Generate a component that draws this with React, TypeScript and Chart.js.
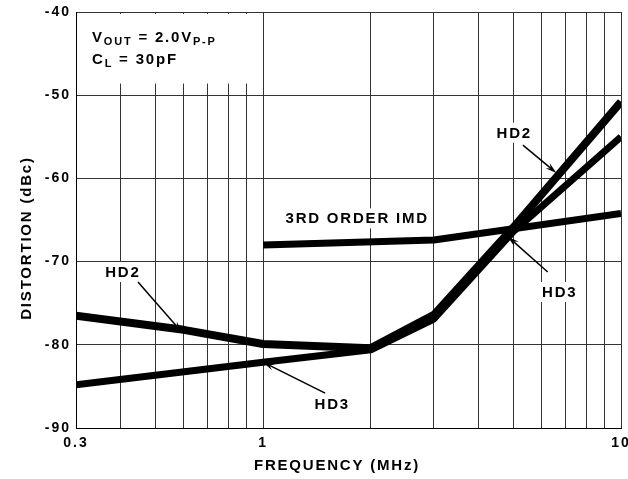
import { useEffect, useRef } from 'react';
import { Chart, registerables } from 'chart.js';
Chart.register(...registerables);

const freqTicks = [0.3, 0.4, 0.5, 0.6, 0.7, 0.8, 0.9, 1, 2, 3, 4, 5, 6, 7, 8, 9, 10];
const freqLabels = ['0.3', '1', '10'];
const dbTicks = [-90, -80, -70, -60, -50, -40];

const hd2Freq = [0.3, 0.6, 1, 2, 3, 5, 10];
const hd2Db = [-76.5, -78.2, -79.9, -80.4, -76.4, -65.9, -50.8];
const hd3Freq = [0.3, 1, 2, 3, 5, 10];
const hd3Db = [-84.8, -82.1, -80.6, -76.9, -66.4, -55.0];
const imdFreq = [1, 3, 10];
const imdDb = [-68.0, -67.4, -64.2];

const noteTexts = ['HD2', '3RD ORDER IMD', 'HD3', 'HD2', 'HD3'];
const noteFreq = [5.0, 1.82, 6.7, 0.403, 1.55];
const noteDb = [-54.5, -64.8, -73.65, -71.25, -87.1];

const arrowFromFreq = [5.32, 6.24, 0.447, 1.49];
const arrowFromDb = [-56.0, -71.25, -72.45, -85.8];
const arrowToFreq = [6.6, 4.83, 0.593, 1.0];
const arrowToDb = [-59.35, -67.0, -78.5, -82.1];

const xTitle = 'FREQUENCY (MHz)';
const yTitle = 'DISTORTION (dBc)';
const condLine1 = [
  { t: 'V', sub: false },
  { t: 'OUT', sub: true },
  { t: ' = 2.0V', sub: false },
  { t: 'P-P', sub: true },
];
const condLine2 = [
  { t: 'C', sub: false },
  { t: 'L', sub: true },
  { t: ' = 30pF', sub: false },
];

const FONT = '"Liberation Sans", Arial, Helvetica, sans-serif';

function pts(f: number[], d: number[]) {
  return f.map((x, i) => ({ x, y: d[i] }));
}

function drawRich(ctx: CanvasRenderingContext2D, segs: { t: string; sub: boolean }[], x: number, y: number) {
  let cx = x;
  ctx.textAlign = 'left';
  ctx.textBaseline = 'alphabetic';
  for (const s of segs) {
    ctx.font = s.sub ? `bold 11px ${FONT}` : `bold 15px ${FONT}`;
    ctx.fillText(s.t, cx, s.sub ? y + 3 : y);
    cx += ctx.measureText(s.t).width;
  }
}

const annotPlugin = {
  id: 'annot',
  beforeDraw(chart: any) {
    chart.ctx.letterSpacing = '2px';
  },
  beforeDatasetsDraw(chart: any) {
    const { ctx, chartArea, scales } = chart;
    const xs = scales.x;
    const ys = scales.y;
    ctx.save();
    ctx.letterSpacing = '1.8px';
    const bx = chartArea.left + 1;
    const by = chartArea.top + 2;
    const bw = xs.getPixelForValue(1) - 2 - bx;
    const bh = ys.getPixelForValue(-48.6) - by;
    ctx.fillStyle = '#fff';
    ctx.fillRect(bx, by, bw, bh);
    ctx.fillStyle = '#000';
    drawRich(ctx, condLine1, chartArea.left + 16, chartArea.top + 30);
    drawRich(ctx, condLine2, chartArea.left + 16, chartArea.top + 52);
    ctx.font = `bold 15px ${FONT}`;
    ctx.textAlign = 'center';
    ctx.textBaseline = 'middle';
    noteTexts.forEach((t, i) => {
      const px = xs.getPixelForValue(noteFreq[i]);
      const py = ys.getPixelForValue(noteDb[i]);
      const w = ctx.measureText(t).width;
      ctx.fillStyle = '#fff';
      ctx.fillRect(px - w / 2 - 3, py - 10, w + 6, 20);
      ctx.fillStyle = '#000';
      ctx.fillText(t, px + 1, py + 1);
    });
    ctx.restore();
  },
  afterDatasetsDraw(chart: any) {
    const { ctx, scales } = chart;
    const xs = scales.x;
    const ys = scales.y;
    ctx.save();
    ctx.strokeStyle = '#000';
    ctx.fillStyle = '#000';
    ctx.lineWidth = 1.5;
    arrowFromFreq.forEach((_, i) => {
      const x1 = xs.getPixelForValue(arrowFromFreq[i]);
      const y1 = ys.getPixelForValue(arrowFromDb[i]);
      const x2 = xs.getPixelForValue(arrowToFreq[i]);
      const y2 = ys.getPixelForValue(arrowToDb[i]);
      const a = Math.atan2(y2 - y1, x2 - x1);
      const L = 12;
      const sp = 0.28;
      ctx.beginPath();
      ctx.moveTo(x1, y1);
      ctx.lineTo(x2 - Math.cos(a) * 6, y2 - Math.sin(a) * 6);
      ctx.stroke();
      ctx.beginPath();
      ctx.moveTo(x2, y2);
      ctx.lineTo(x2 - L * Math.cos(a - sp), y2 - L * Math.sin(a - sp));
      ctx.lineTo(x2 - 0.6 * L * Math.cos(a), y2 - 0.6 * L * Math.sin(a));
      ctx.lineTo(x2 - L * Math.cos(a + sp), y2 - L * Math.sin(a + sp));
      ctx.closePath();
      ctx.fill();
    });
    ctx.restore();
  },
  afterDraw(chart: any) {
    const { ctx, chartArea } = chart;
    ctx.save();
    ctx.letterSpacing = '1.8px';
    ctx.fillStyle = '#000';
    ctx.font = `bold 15px ${FONT}`;
    ctx.textAlign = 'center';
    ctx.textBaseline = 'middle';
    ctx.fillText(xTitle, chartArea.left + 261, chartArea.bottom + 38);
    ctx.translate(27, chartArea.top + 226);
    ctx.rotate(-Math.PI / 2);
    ctx.fillText(yTitle, 0, 0);
    ctx.restore();
  },
};

export default function App() {
  const ref = useRef<HTMLCanvasElement>(null);
  useEffect(() => {
    document.body.style.margin = '0';
    const canvas = ref.current;
    if (!canvas) return;
    const chart = new Chart(canvas, {
      type: 'line',
      data: {
        datasets: [
          {
            label: 'HD2',
            data: pts(hd2Freq, hd2Db),
            borderColor: '#000',
            borderWidth: 8,
            pointRadius: 0,
            tension: 0,
            borderJoinStyle: 'round',
          },
          {
            label: 'HD3',
            data: pts(hd3Freq, hd3Db),
            borderColor: '#000',
            borderWidth: 7,
            pointRadius: 0,
            tension: 0,
            borderJoinStyle: 'round',
          },
          {
            label: '3RD ORDER IMD',
            data: pts(imdFreq, imdDb),
            borderColor: '#000',
            borderWidth: 7,
            pointRadius: 0,
            tension: 0,
            borderJoinStyle: 'round',
          },
        ],
      },
      options: {
        animation: false,
        responsive: false,
        devicePixelRatio: 1,
        layout: { padding: { top: 12, right: 7, left: 0, bottom: 0 } },
        plugins: { legend: { display: false }, tooltip: { enabled: false } },
        scales: {
          x: {
            type: 'logarithmic',
            min: 0.3,
            max: 10,
            afterBuildTicks: (s: any) => {
              s.ticks = freqTicks.map((v) => ({ value: v }));
            },
            afterFit: (s: any) => {
              s.height = 51;
              s.paddingLeft = 0;
              s.paddingRight = 0;
            },
            ticks: {
              autoSkip: false,
              maxRotation: 0,
              minRotation: 0,
              padding: 7,
              color: '#000',
              font: { family: FONT, size: 14, weight: 'bold' },
              callback: (v: any) => (freqLabels.includes(String(v)) ? String(v) : ''),
            },
            grid: { color: '#333', lineWidth: 1, drawTicks: false },
            border: { color: '#000', width: 1 },
          },
          y: {
            type: 'linear',
            min: -90,
            max: -40,
            afterBuildTicks: (s: any) => {
              s.ticks = dbTicks.map((v) => ({ value: v }));
            },
            afterFit: (s: any) => {
              s.width = 76;
              s.paddingTop = 0;
              s.paddingBottom = 0;
            },
            ticks: {
              padding: 5,
              color: '#000',
              font: { family: FONT, size: 14, weight: 'bold' },
            },
            grid: { color: '#333', lineWidth: 1, drawTicks: false },
            border: { color: '#000', width: 1 },
          },
        },
      },
      plugins: [annotPlugin],
    } as any);
    return () => chart.destroy();
  }, []);
  return (
    <div style={{ width: 628, height: 479 }}>
      <canvas ref={ref} width={628} height={479} style={{ display: 'block' }} />
    </div>
  );
}
